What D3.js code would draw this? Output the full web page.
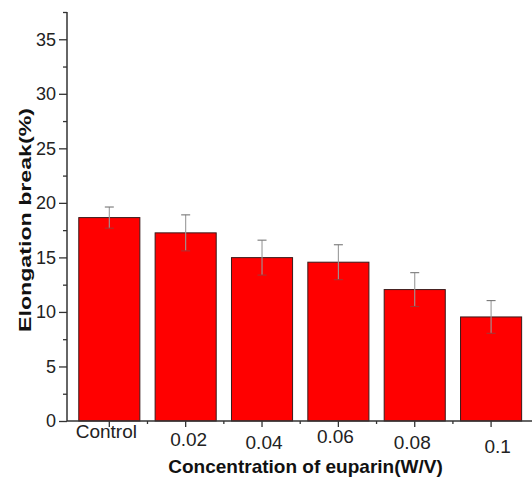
<!DOCTYPE html>
<html>
<head>
<meta charset="utf-8">
<script src="https://cdn.jsdelivr.net/npm/d3@7"></script>
<style>
  html, body { margin: 0; padding: 0; background: #fff; }
  svg { display: block; font-family: "Liberation Sans", Arial, sans-serif; }
</style>
</head>
<body>
<div id="chart"></div>
<script>
// Data
const categories = ['Control', '0.02', '0.04', '0.06', '0.08', '0.1'];
const values = [18.65, 17.25, 14.98, 14.56, 12.05, 9.54];
const errors = [0.97, 1.65, 1.6, 1.6, 1.55, 1.5];
const yMajorTicks = [0, 5, 10, 15, 20, 25, 30, 35];
const yMinorTicks = [2.5, 7.5, 12.5, 17.5, 22.5, 27.5, 32.5, 37.5];

// The tick labels in the original sit a bit unevenly
const labelNudgeX = [-3, 3, 2, -3, -2.5, 6.5];
const labelNudgeY = [-6, 2, 4.5, -1, 5, 9];

const W = 532, H = 479;
const axisX = 67, axisY = 421, axisTop = 12, axisRight = 532;

const svg = d3.select('#chart')
    .append('svg')
    .attr('width', W)
    .attr('height', H);

// Scales
const x = d3.scaleBand()
    .domain(categories)
    .range([63.5, 63.5 + 78.9 * categories.length])
    .padding(0.2);

const y = d3.scaleLinear()
    .domain([0, 37.5])
    .range([axisY, axisTop]);

// Bars
svg.selectAll('.bar')
    .data(values)
    .enter()
    .append('rect')
    .attr('class', 'bar')
    .attr('x', (d, i) => x(categories[i]))
    .attr('width', x.bandwidth())
    .attr('y', d => y(d))
    .attr('height', d => y(0) - y(d))
    .attr('fill', '#ff0000')
    .attr('stroke', '#3a1a1a')
    .attr('stroke-width', 1);

// Error bars
const eb = svg.selectAll('.err')
    .data(values)
    .enter()
    .append('g')
    .attr('class', 'err')
    .attr('stroke', '#9a9a9a')
    .attr('stroke-width', 1.1);

const cx = i => x(categories[i]) + x.bandwidth() / 2;

eb.append('line')
    .attr('x1', (d, i) => cx(i))
    .attr('x2', (d, i) => cx(i))
    .attr('y1', (d, i) => y(d + errors[i]))
    .attr('y2', (d, i) => y(d - errors[i]));

eb.append('line')
    .attr('x1', (d, i) => cx(i) - 4.5)
    .attr('x2', (d, i) => cx(i) + 4.5)
    .attr('y1', (d, i) => y(d + errors[i]))
    .attr('y2', (d, i) => y(d + errors[i]))
    .attr('stroke', '#777');

eb.append('line')
    .attr('x1', (d, i) => cx(i) - 4.5)
    .attr('x2', (d, i) => cx(i) + 4.5)
    .attr('y1', (d, i) => y(d - errors[i]))
    .attr('y2', (d, i) => y(d - errors[i]))
    .attr('stroke', '#a33');

// Y axis
const yAxis = svg.append('g')
    .attr('transform', `translate(${axisX},0)`)
    .call(d3.axisLeft(y).tickValues(yMajorTicks).tickSize(8).tickSizeOuter(0).tickPadding(3));

yAxis.select('.domain').remove();
yAxis.selectAll('.tick line').attr('stroke', '#333').attr('stroke-width', 1.3);
yAxis.selectAll('.tick text')
    .attr('fill', '#222')
    .style('font-size', '18px');

svg.append('g')
    .attr('transform', `translate(${axisX},0)`)
    .call(d3.axisLeft(y).tickValues(yMinorTicks).tickSize(4).tickFormat(''))
    .call(g => g.select('.domain').remove())
    .selectAll('.tick line').attr('stroke', '#333').attr('stroke-width', 1.3);

// X axis
const xAxis = svg.append('g')
    .attr('transform', `translate(0,${axisY})`)
    .call(d3.axisBottom(x).tickSize(6).tickSizeOuter(0).tickPadding(4));

xAxis.select('.domain').remove();
xAxis.selectAll('.tick line').attr('stroke', '#333').attr('stroke-width', 1.3);
xAxis.selectAll('.tick text')
    .attr('fill', '#222')
    .style('font-size', '19px')
    .attr('dx', (d, i) => labelNudgeX[i])
    .attr('transform', (d, i) => `translate(0,${labelNudgeY[i]})`);

// minor ticks between the bars
const minorX = categories.slice(1).map(c => x(c) - x.step() * x.paddingInner() / 2);
svg.selectAll('.xminor')
    .data(minorX)
    .enter()
    .append('line')
    .attr('x1', d => d)
    .attr('x2', d => d)
    .attr('y1', axisY)
    .attr('y2', axisY + 3)
    .attr('stroke', '#333')
    .attr('stroke-width', 1.3);

// axis lines
svg.append('line')
    .attr('x1', axisX).attr('x2', axisX)
    .attr('y1', axisTop).attr('y2', axisY)
    .attr('stroke', '#333').attr('stroke-width', 1.5);

svg.append('line')
    .attr('x1', axisX).attr('x2', axisRight)
    .attr('y1', axisY).attr('y2', axisY)
    .attr('stroke', '#333').attr('stroke-width', 1.5);

// Axis titles
svg.append('text')
    .attr('transform', `translate(31,220) rotate(-90)`)
    .attr('text-anchor', 'middle')
    .attr('textLength', 224)
    .attr('lengthAdjust', 'spacingAndGlyphs')
    .style('font-size', '16px')
    .style('font-weight', 'bold')
    .attr('fill', '#111')
    .text('Elongation break(%)');

svg.append('text')
    .attr('x', 305.5)
    .attr('y', 473)
    .attr('text-anchor', 'middle')
    .style('font-size', '19px')
    .style('font-weight', 'bold')
    .attr('fill', '#111')
    .text('Concentration of euparin(W/V)');
</script>
</body>
</html>
